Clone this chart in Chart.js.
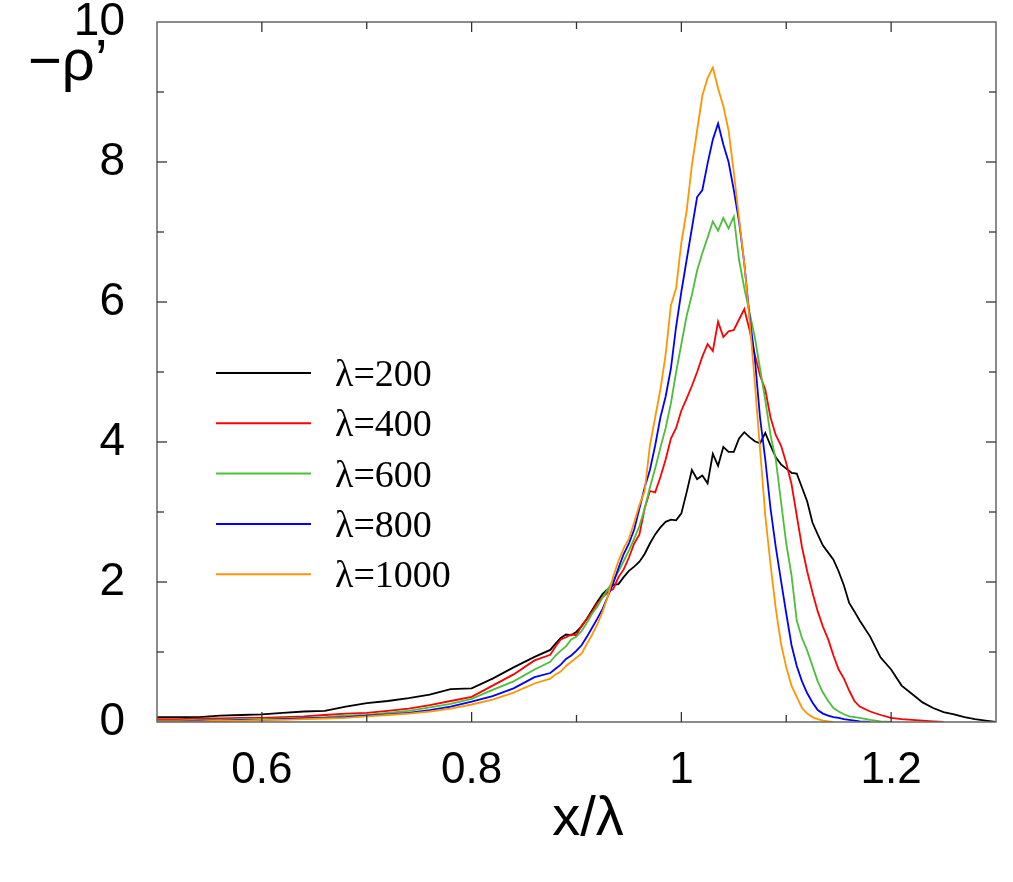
<!DOCTYPE html>
<html>
<head>
<meta charset="utf-8">
<script src="https://cdn.jsdelivr.net/npm/chart.js@4.4.0/dist/chart.umd.min.js"></script>
<style>
html, body { margin: 0; padding: 0; background: #fff; }
#wrap { width: 1013px; height: 882px; }
</style>
</head>
<body>
<div id="wrap"><canvas id="rhoChart" width="1013" height="882"></canvas></div>
<script>
// x/lambda sample positions (coarse tails, fine around the peak)
const xs = [
    0.50, 0.52, 0.54, 0.56, 0.58, 0.60, 0.62, 0.64, 0.66, 0.68, 0.70, 0.72, 0.74, 0.76, 0.78, 0.80, 0.82, 0.84, 0.86,
    0.875, 0.880, 0.885, 0.890, 0.895, 0.900, 0.905, 0.910, 0.915, 0.920,
    0.925, 0.930, 0.935, 0.940, 0.945, 0.950, 0.955, 0.960, 0.965, 0.970,
    0.975, 0.980, 0.985, 0.990, 0.995, 1.000, 1.005, 1.010, 1.015, 1.020,
    1.025, 1.030, 1.035, 1.040, 1.045, 1.050, 1.055, 1.060, 1.065, 1.070,
    1.075, 1.080, 1.085, 1.090, 1.095, 1.100, 1.105, 1.110, 1.115, 1.120,
    1.125, 1.130, 1.135, 1.140, 1.145, 1.150, 1.155, 1.160, 1.165,
    1.17, 1.18, 1.19, 1.20, 1.21, 1.22, 1.23, 1.24, 1.25, 1.26, 1.27, 1.28, 1.29, 1.30
];

const rho200 = [
    0.07, 0.07, 0.07, 0.09, 0.10, 0.11, 0.13, 0.15, 0.16, 0.22, 0.27, 0.30, 0.34, 0.39, 0.47, 0.48, 0.62, 0.78, 0.93,
    1.03, 1.12, 1.20, 1.25, 1.24, 1.29, 1.37, 1.48, 1.60, 1.72,
    1.83, 1.90, 1.96, 1.97, 2.07, 2.16, 2.22, 2.29, 2.40, 2.55,
    2.68, 2.78, 2.86, 2.89, 2.88, 2.98, 3.28, 3.60, 3.47, 3.52,
    3.41, 3.83, 3.66, 3.93, 3.86, 3.86, 4.05, 4.14, 4.07, 4.01,
    3.98, 4.13, 3.95, 3.78, 3.68, 3.62, 3.56, 3.55, 3.35, 3.15,
    2.85, 2.68, 2.52, 2.42, 2.32, 2.15, 1.95, 1.70, 1.58,
    1.45, 1.22, 0.92, 0.75, 0.52, 0.40, 0.28, 0.20, 0.14, 0.11, 0.07, 0.04, 0.02, 0.00
];

const rho400 = [
    0.04, 0.04, 0.05, 0.05, 0.06, 0.06, 0.07, 0.08, 0.10, 0.12, 0.13, 0.16, 0.19, 0.24, 0.30, 0.36, 0.52, 0.68, 0.88,
    0.96, 1.08, 1.18, 1.21, 1.25, 1.24, 1.38, 1.47, 1.58, 1.70,
    1.78, 1.86, 1.90, 2.07, 2.18, 2.35, 2.55, 2.68, 3.05, 3.30,
    3.28, 3.50, 3.75, 4.05, 4.20, 4.45, 4.62, 4.80, 5.00, 5.22,
    5.40, 5.30, 5.72, 5.50, 5.58, 5.60, 5.75, 5.90, 5.60, 5.25,
    4.95, 4.75, 4.35, 4.10, 3.95, 3.70, 3.40, 2.95, 2.50, 2.15,
    1.85, 1.58, 1.36, 1.18, 0.95, 0.75, 0.62, 0.45, 0.30,
    0.22, 0.15, 0.10, 0.06, 0.04, 0.03, 0.02, 0.01, 0.00, null, null, null, null, null
];

const rho600 = [
    0.02, 0.02, 0.03, 0.03, 0.04, 0.04, 0.05, 0.06, 0.07, 0.09, 0.10, 0.13, 0.16, 0.21, 0.26, 0.33, 0.46, 0.58, 0.75,
    0.86, 0.95, 1.02, 1.08, 1.18, 1.22, 1.30, 1.42, 1.55, 1.65,
    1.78, 1.90, 2.02, 2.15, 2.30, 2.45, 2.62, 2.80, 3.05, 3.35,
    3.62, 3.92, 4.20, 4.55, 5.00, 5.40, 5.80, 6.10, 6.45, 6.70,
    6.92, 7.15, 7.02, 7.20, 7.05, 7.22, 6.60, 6.20, 5.85, 5.50,
    5.05, 4.60, 4.10, 3.75, 3.15, 2.55, 2.10, 1.45, 1.20, 1.02,
    0.80, 0.58, 0.42, 0.30, 0.20, 0.15, 0.11, 0.08, 0.07,
    0.06, 0.03, 0.01, 0.00, null, null, null, null, null, null, null, null, null, null
];

const rho800 = [
    0.01, 0.01, 0.02, 0.02, 0.03, 0.03, 0.04, 0.05, 0.06, 0.07, 0.09, 0.11, 0.13, 0.17, 0.22, 0.29, 0.37, 0.48, 0.64,
    0.70, 0.76, 0.82, 0.90, 0.95, 1.02, 1.10, 1.22, 1.35, 1.48,
    1.62, 1.80, 1.98, 2.20, 2.40, 2.55, 2.75, 3.05, 3.35, 3.60,
    3.95, 4.35, 4.65, 5.05, 5.65, 6.15, 6.60, 7.05, 7.50, 7.60,
    7.98, 8.32, 8.55, 8.25, 8.00, 7.60, 7.15, 6.55, 5.80, 5.20,
    4.35, 3.75, 3.05, 2.50, 2.02, 1.55, 1.10, 0.80, 0.58, 0.41,
    0.28, 0.17, 0.12, 0.09, 0.07, 0.06, 0.04, 0.03, 0.02,
    0.01, 0.00, null, null, null, null, null, null, null, null, null, null, null, null
];

const rho1000 = [
    0.01, 0.01, 0.01, 0.02, 0.02, 0.03, 0.03, 0.04, 0.05, 0.06, 0.08, 0.10, 0.12, 0.15, 0.19, 0.25, 0.32, 0.42, 0.55,
    0.62, 0.68, 0.72, 0.80, 0.86, 0.92, 0.98, 1.12, 1.25, 1.40,
    1.58, 1.80, 2.08, 2.30, 2.48, 2.62, 2.85, 3.10, 3.30, 3.95,
    4.35, 4.75, 5.25, 5.95, 6.20, 6.85, 7.30, 7.95, 8.45, 8.95,
    9.20, 9.35, 9.05, 8.80, 8.45, 7.85, 7.20, 6.55, 5.75, 4.85,
    3.90, 2.95, 2.25, 1.62, 1.12, 0.78, 0.52, 0.36, 0.20, 0.12,
    0.07, 0.04, 0.02, 0.01, 0.00, null, null, null, null,
    null, null, null, null, null, null, null, null, null, null, null, null, null, null
];

const seriesLabels = ['λ=200', 'λ=400', 'λ=600', 'λ=800', 'λ=1000'];
const seriesColors = ['#000000', '#ff0000', '#4cbf3a', '#0000ff', '#ff9500'];
const seriesValues = [rho200, rho400, rho600, rho800, rho1000];

const xTickValues = [0.6, 0.8, 1, 1.2];
const xMinorValues = [0.7, 0.9, 1.1];
const yTickValues = [0, 2, 4, 6, 8, 10];
const yMinorValues = [1, 3, 5, 7, 9];

const sansFont = "'Liberation Sans', Arial, Helvetica, sans-serif";
const serifFont = "'Liberation Serif', 'Times New Roman', serif";

// Box frame with inward ticks, axis titles and the in-plot legend
const framePlugin = {
    id: 'frame',
    afterDraw(chart) {
        const ctx = chart.ctx;
        const area = chart.chartArea;
        const xs_ = chart.scales.x;
        const ys_ = chart.scales.y;

        ctx.save();
        ctx.strokeStyle = '#666';
        ctx.lineWidth = 1.5;
        ctx.strokeRect(area.left, area.top, area.right - area.left, area.bottom - area.top);

        ctx.strokeStyle = '#333';
        ctx.lineWidth = 1.3;
        const tick = (x1, y1, x2, y2) => {
            ctx.beginPath();
            ctx.moveTo(x1, y1);
            ctx.lineTo(x2, y2);
            ctx.stroke();
        };
        xTickValues.concat(xMinorValues).forEach(v => {
            const len = xTickValues.includes(v) ? 10 : 7;
            const px = xs_.getPixelForValue(v);
            tick(px, area.bottom, px, area.bottom - len);
            tick(px, area.top, px, area.top + len);
        });
        yTickValues.concat(yMinorValues).forEach(v => {
            if (v === 0 || v === 10) return;
            const len = yTickValues.includes(v) ? 10 : 7;
            const py = ys_.getPixelForValue(v);
            tick(area.left, py, area.left + len, py);
            tick(area.right, py, area.right - len, py);
        });

        // axis titles
        ctx.fillStyle = '#000';
        ctx.font = '58px ' + sansFont;
        ctx.textAlign = 'left';
        ctx.textBaseline = 'alphabetic';
        ctx.fillText('\u2212\u03c1\u2019', 28, 80);

        ctx.font = '56px ' + sansFont;
        ctx.textAlign = 'center';
        ctx.textBaseline = 'middle';
        ctx.fillText('x/\u03bb', 588, 820);

        // legend
        ctx.font = '38px ' + serifFont;
        ctx.textAlign = 'left';
        ctx.textBaseline = 'alphabetic';
        seriesLabels.forEach((label, i) => {
            const ly = 373 + i * 50.3;
            ctx.strokeStyle = seriesColors[i];
            ctx.lineWidth = 2;
            tick(216, ly, 311, ly);
            ctx.fillStyle = '#000';
            ctx.fillText(label, 335, ly + 13);
        });
        ctx.restore();
    }
};

const datasets = seriesValues.map((vals, i) => ({
    label: seriesLabels[i],
    data: xs.map((x, j) => ({ x: x, y: vals[j] })),
    borderColor: seriesColors[i],
    backgroundColor: seriesColors[i],
    borderWidth: 1.8,
    pointRadius: 0,
    tension: 0,
    fill: false,
    spanGaps: false,
    order: seriesValues.length - i
}));

new Chart(document.getElementById('rhoChart'), {
    type: 'line',
    data: { datasets: datasets },
    options: {
        responsive: false,
        animation: false,
        layout: { padding: { top: 22, right: 17, left: 0, bottom: 0 } },
        plugins: {
            legend: { display: false },
            tooltip: { enabled: false }
        },
        scales: {
            x: {
                type: 'linear',
                min: 0.5,
                max: 1.3,
                grid: { display: false, drawTicks: false },
                border: { display: false },
                afterBuildTicks: s => { s.ticks = xTickValues.map(v => ({ value: v })); },
                afterFit: s => {
                    s.height = 160;
                    s.paddingLeft = 0;
                    s.paddingRight = 0;
                },
                ticks: {
                    color: '#000',
                    padding: 22,
                    maxRotation: 0,
                    font: { family: sansFont, size: 44 },
                    callback: v => String(v)
                }
            },
            y: {
                min: 0,
                max: 10,
                grid: { display: false, drawTicks: false },
                border: { display: false },
                afterBuildTicks: s => { s.ticks = yTickValues.map(v => ({ value: v })); },
                afterFit: s => {
                    s.width = 157;
                    s.paddingTop = 0;
                    s.paddingBottom = 0;
                },
                ticks: {
                    color: '#000',
                    padding: 32,
                    font: { family: sansFont, size: 46 },
                    callback: v => String(v)
                }
            }
        }
    },
    plugins: [framePlugin]
});
</script>
</body>
</html>
